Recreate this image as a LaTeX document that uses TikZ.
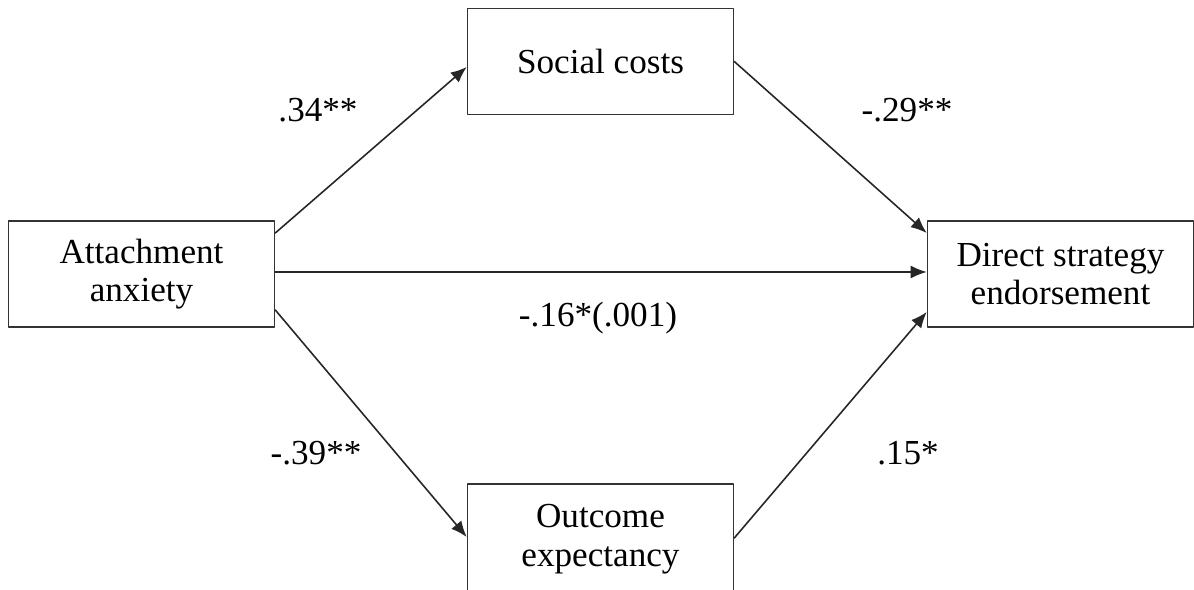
\documentclass[tikz,border=0pt]{standalone}
\usepackage{fontspec}
\setmainfont{Liberation Serif}
\usetikzlibrary{arrows.meta}

\begin{document}
\begin{tikzpicture}[line cap=round,line join=round,
  every node/.style={inner sep=0pt,font=\fontsize{20}{22}\selectfont},
  varbox/.style={draw=black!80,line width=0.9pt,minimum width=5.32cm,minimum height=2.12cm,align=center},
  path/.style={draw=black!85,line width=0.9pt,-{Latex[length=3.2mm,width=2.6mm]}},
  coef/.style={anchor=base}]
  \useasboundingbox (0,0) rectangle (23.88,11.78);
  \clip (0,0) rectangle (23.88,11.78);
  % 变量框
  \node[varbox] (anx) at (2.83,6.30) {Attachment\\anxiety};
  \node[varbox] (cost) at (12.01,10.55) {Social costs};
  \node[varbox] (dse) at (21.21,6.30) {Direct strategy\\endorsement};
  \node[varbox,minimum height=2.2cm] (outc) at (12.01,1.00) {Outcome\\expectancy};
  % 路径
  \draw[path] ([yshift=0.82cm]anx.east) -- ([yshift=-0.11cm]cost.west);
  \draw[path] ([yshift=0.04cm]anx.east) -- ([yshift=0.04cm]dse.west);
  \draw[path] ([yshift=-0.72cm]anx.east) -- ([yshift=0.04cm]outc.west);
  \draw[path] (cost.east) -- ([yshift=0.82cm]dse.west);
  \draw[path] ([yshift=0.02cm]outc.east) -- ([yshift=-0.76cm]dse.west);
  % 系数
  \node[coef] (a1) at (6.36,9.34) {.34**};
  \node[coef] (b1) at (18.14,9.34) {-.29**};
  \node[coef] (c1) at (11.96,5.24) {-.16*(.001)};
  \node[coef] (a2) at (6.32,2.48) {-.39**};
  \node[coef] (b2) at (18.16,2.48) {.15*};
\end{tikzpicture}
\end{document}
